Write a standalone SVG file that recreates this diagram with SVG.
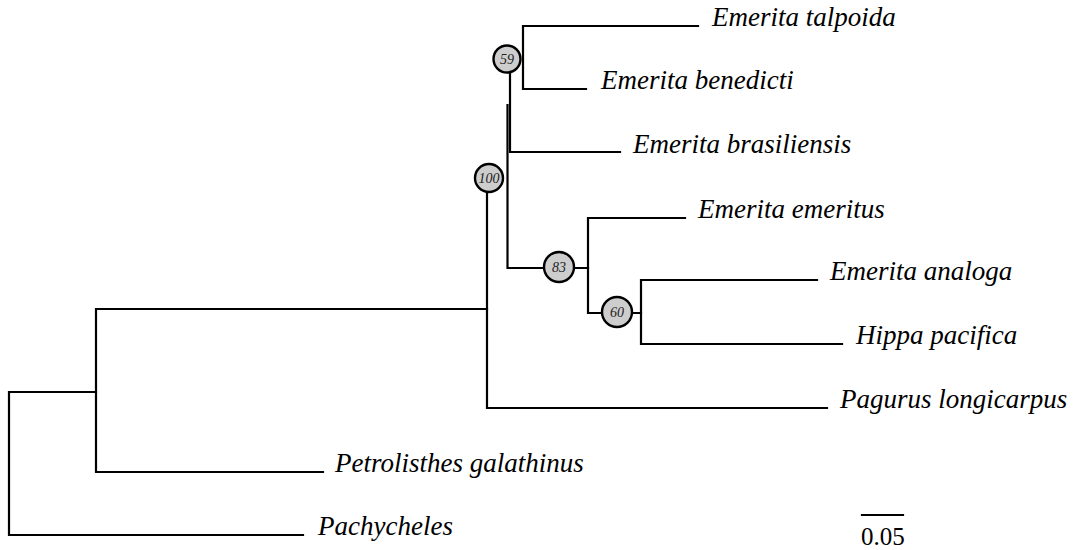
<svg xmlns="http://www.w3.org/2000/svg" width="1079" height="550" viewBox="0 0 1079 550">
<style>
.br{fill:none;stroke:#000;stroke-width:2.2;stroke-linecap:square}
.lbl{font-family:"Liberation Serif","Times New Roman",serif;font-style:italic;font-size:27px;fill:#000}
.bs{fill:#cdcdcd;stroke:#000;stroke-width:2.4}
.bt{font-family:"Liberation Serif","Times New Roman",serif;font-style:italic;font-size:14px;fill:#222;text-anchor:middle}
.sc{font-family:"Liberation Serif","Times New Roman",serif;font-size:25px;fill:#000}
</style>
<rect width="1079" height="550" fill="#fff"/>
<g id="connectors">
<path class="br" d="M523 26V89M523 26H698M523 89H586"/>
<path class="br" d="M510 73V152M510 152H620"/>
<path class="br" d="M507.5 105V268H544M574 268H588"/>
<path class="br" d="M588 218V313M588 218H685M588 313H602M632 313H641"/>
<path class="br" d="M641 280V344M641 280H817M641 344H842"/>
<path class="br" d="M487 192V408M487 408H827"/>
<path class="br" d="M96 309H487M96 309V472M96 472H323"/>
<path class="br" d="M9 392H96M9 392V535M9 535H303"/>
</g>
<g id="node-59"><circle class="bs" cx="507" cy="59" r="13.5"/><text class="bt" x="507" y="64">59</text></g>
<g id="node-100"><circle class="bs" cx="489" cy="178" r="14"/><text class="bt" x="489" y="183">100</text></g>
<g id="node-83"><circle class="bs" cx="559" cy="267" r="15"/><text class="bt" x="559" y="272">83</text></g>
<g id="node-60"><circle class="bs" cx="617" cy="312" r="15"/><text class="bt" x="617" y="317">60</text></g>
<g id="taxon-talpoida"><text class="lbl" x="712" y="26">Emerita talpoida</text></g>
<g id="taxon-benedicti"><text class="lbl" x="601" y="89">Emerita benedicti</text></g>
<g id="taxon-brasiliensis"><text class="lbl" x="633" y="153">Emerita brasiliensis</text></g>
<g id="taxon-emeritus"><text class="lbl" x="698" y="218">Emerita emeritus</text></g>
<g id="taxon-analoga"><text class="lbl" x="830" y="280">Emerita analoga</text></g>
<g id="taxon-hippa"><text class="lbl" x="856" y="344">Hippa pacifica</text></g>
<g id="taxon-pagurus"><text class="lbl" x="840" y="408">Pagurus longicarpus</text></g>
<g id="taxon-petrolisthes"><text class="lbl" x="335" y="472">Petrolisthes galathinus</text></g>
<g id="taxon-pachycheles"><text class="lbl" x="318" y="535">Pachycheles</text></g>
<g id="scale-bar"><path class="br" d="M862 515H903"/><text class="sc" x="861" y="545">0.05</text></g>
</svg>
